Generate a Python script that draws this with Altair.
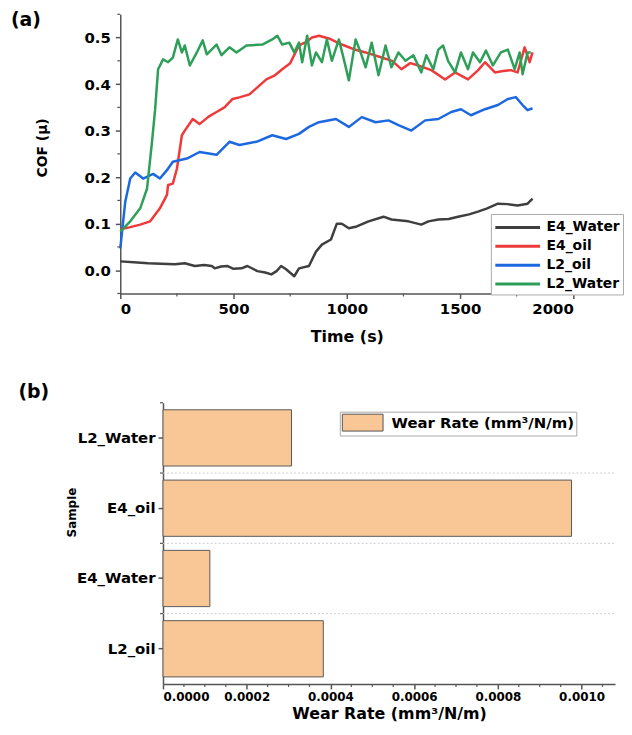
import altair as alt
import pandas as pd

# ---------------- data: COF vs time ----------------
series_names = ["E4_Water", "E4_oil", "L2_oil", "L2_Water"]
series_colors = ["#3f3f3f", "#ee3a3a", "#1c68e0", "#2e9f58"]

e4_water_t = [0, 60, 123, 180, 241, 285, 329, 370, 404, 417, 445, 474, 500, 535, 561, 605, 640, 667, 690, 710,
              732, 768, 789, 833, 864, 890, 930, 956, 978, 1009, 1044, 1096, 1162, 1197, 1272, 1329, 1360, 1404,
              1450, 1491, 1540, 1579, 1620, 1667, 1710, 1754, 1798, 1820]
e4_water_v = [0.019, 0.017, 0.015, 0.014, 0.013, 0.015, 0.009, 0.011, 0.009, 0.004, 0.008, 0.009, 0.003, 0.004,
              0.009, -0.002, -0.005, -0.009, -0.002, 0.009, 0.002, -0.013, 0.004, 0.009, 0.040, 0.055, 0.066,
              0.100, 0.100, 0.090, 0.094, 0.105, 0.115, 0.109, 0.105, 0.098, 0.105, 0.109, 0.110, 0.115, 0.120,
              0.126, 0.133, 0.143, 0.142, 0.139, 0.143, 0.154]

e4_oil_t = [0, 40, 88, 132, 175, 206, 211, 232, 250, 272, 285, 320, 350, 390, 425, 460, 496, 530, 570, 610, 645,
            680, 715, 750, 789, 820, 846, 877, 921, 978, 1030, 1083, 1154, 1200, 1241, 1280, 1316, 1373, 1434, 1478,
            1535, 1580, 1610, 1654, 1690, 1724, 1754, 1785, 1807, 1820]
e4_oil_v = [0.088, 0.092, 0.098, 0.105, 0.133, 0.162, 0.183, 0.186, 0.218, 0.290, 0.300, 0.325, 0.314, 0.330,
            0.340, 0.350, 0.368, 0.372, 0.378, 0.395, 0.410, 0.418, 0.432, 0.445, 0.483, 0.490, 0.500, 0.504,
            0.498, 0.485, 0.475, 0.468, 0.457, 0.450, 0.432, 0.445, 0.440, 0.430, 0.410, 0.425, 0.410, 0.430,
            0.447, 0.425, 0.428, 0.430, 0.425, 0.479, 0.447, 0.468]

l2_oil_t = [0, 22, 44, 66, 101, 145, 175, 206, 232, 294, 350, 425, 482, 526, 601, 671, 732, 789, 833, 877, 952,
            1009, 1066, 1127, 1184, 1228, 1285, 1346, 1404, 1461, 1504, 1548, 1610, 1667, 1711, 1746, 1776, 1798,
            1820]
l2_oil_v = [0.047, 0.147, 0.197, 0.210, 0.197, 0.207, 0.197, 0.215, 0.233, 0.240, 0.254, 0.248, 0.276, 0.269,
            0.276, 0.290, 0.282, 0.293, 0.308, 0.318, 0.325, 0.308, 0.329, 0.318, 0.322, 0.312, 0.300, 0.322,
            0.325, 0.340, 0.346, 0.333, 0.346, 0.355, 0.368, 0.372, 0.355, 0.344, 0.348]

l2_water_t = [0, 44, 88, 118, 140, 154, 167, 189, 211, 232, 254, 272, 285, 307, 338, 364, 382, 425, 447, 482, 513,
              557, 627, 671, 693, 715, 746, 768, 789, 803, 825, 846, 864, 890, 912, 934, 965, 987, 1009, 1039, 1061,
              1083, 1110, 1140, 1171, 1197, 1228, 1259, 1294, 1329, 1351, 1382, 1404, 1425, 1447, 1478, 1504, 1535,
              1557, 1588, 1614, 1645, 1680, 1711, 1741, 1763, 1776, 1798, 1812]
l2_water_v = [0.083, 0.105, 0.133, 0.175, 0.276, 0.346, 0.432, 0.453, 0.447, 0.457, 0.496, 0.468, 0.483, 0.440,
              0.468, 0.494, 0.464, 0.485, 0.462, 0.479, 0.468, 0.483, 0.485, 0.496, 0.504, 0.485, 0.489, 0.468,
              0.489, 0.447, 0.504, 0.440, 0.468, 0.447, 0.496, 0.450, 0.496, 0.453, 0.408, 0.496, 0.468, 0.436,
              0.489, 0.419, 0.483, 0.436, 0.468, 0.450, 0.462, 0.425, 0.462, 0.432, 0.474, 0.483, 0.450, 0.425,
              0.468, 0.432, 0.468, 0.447, 0.472, 0.440, 0.468, 0.474, 0.432, 0.468, 0.421, 0.468, 0.468]

time_ticks = [0, 500, 1000, 1500, 2000]
time_minor = [250, 750, 1250, 1750]
cof_ticks = [0.0, 0.1, 0.2, 0.3, 0.4, 0.5]
cof_minor = [-0.05, 0.05, 0.15, 0.25, 0.35, 0.45, 0.55]

# ---------------- data: wear rate ----------------
samples = ["L2_Water", "E4_oil", "E4_Water", "L2_oil"]
wear_rates = [0.000307, 0.000976, 0.000112, 0.000383]
wear_ticks = [0.0, 0.0002, 0.0004, 0.0006, 0.0008, 0.0010]
wear_minor = [0.00005, 0.0001, 0.00015, 0.00025, 0.0003, 0.00035, 0.00045, 0.0005, 0.00055,
              0.00065, 0.0007, 0.00075, 0.00085, 0.0009, 0.00095, 0.00105]
wear_label = "Wear Rate (mm³/N/m)"
bar_color = "#f9c795"

rows = []
for name, ts, vs in [("E4_Water", e4_water_t, e4_water_v), ("E4_oil", e4_oil_t, e4_oil_v),
                     ("L2_oil", l2_oil_t, l2_oil_v), ("L2_Water", l2_water_t, l2_water_v)]:
    assert len(ts) == len(vs), name
    rows += [{"series": name, "time": t, "cof": v} for t, v in zip(ts, vs)]
cof_df = pd.DataFrame(rows)

wear_df = pd.DataFrame({"sample": samples, "wear": wear_rates, "legend": [wear_label] * len(samples)})

FONT = "DejaVu Sans"
AX = "#555555"
W1, H1 = 456, 281
SHIFT = 43                 # bottom panel's axis sits this far right of the top panel's
W2, H2 = 455 + SHIFT, 283
HALF_GAP = -0.1 * H2 / len(samples)  # boundary between bands, measured from band start

# ---------------- top panel ----------------
xt = dict(title="Time (s)")
yt = dict(title="COF (μ)")

lines = alt.Chart(cof_df).mark_line(strokeWidth=2.5, strokeJoin="round").encode(
    x=alt.X("time:Q", scale=alt.Scale(domain=[0, 2000], nice=False, zero=False),
            axis=alt.Axis(values=time_ticks, format="d", labelFontSize=15, titleFontSize=16,
                          titlePadding=12, labelPadding=3), **xt),
    y=alt.Y("cof:Q", scale=alt.Scale(domain=[-0.05, 0.55], nice=False, zero=False),
            axis=alt.Axis(values=cof_ticks, format=".1f", labelFontSize=15, titleFontSize=14,
                          titleX=-71, titleY=134, labelPadding=5), **yt),
    color=alt.Color("series:N", scale=alt.Scale(domain=series_names, range=series_colors),
                    legend=alt.Legend(title=None, orient="none", legendX=373, legendY=201,
                                      symbolType="M-1,0H4", symbolSize=324, symbolStrokeWidth=3,
                                      labelFont=FONT, labelFontWeight="bold", labelFontSize=14,
                                      labelColor="black", labelOffset=32, rowPadding=1, labelLimit=300,
                                      strokeColor="#aaaaaa", fillColor="white", padding=3)),
)

minor_x1 = alt.Chart(pd.DataFrame({"time": time_minor})).mark_rule(color=AX, strokeWidth=1.2).encode(
    x=alt.X("time:Q", **xt), y=alt.value(H1), y2=alt.value(H1 + 3))
minor_y1 = alt.Chart(pd.DataFrame({"cof": cof_minor})).mark_rule(color=AX, strokeWidth=1.2).encode(
    y=alt.Y("cof:Q", **yt), x=alt.value(-3), x2=alt.value(0))
label_a = alt.Chart(alt.Data(values=[{}])).mark_text(
    text="(a)", font=FONT, fontSize=19, fontWeight="bold", align="center", baseline="middle",
    color="black").encode(x=alt.value(-95), y=alt.value(6))

top = alt.layer(lines, minor_x1, minor_y1, label_a).properties(width=W1, height=H1)

# ---------------- bottom panel ----------------
ys = dict(sort=samples, title="Sample")
xs = dict(title="Wear Rate  (mm³/N/m)")

bars = alt.Chart(wear_df).mark_bar(stroke="#5a5a5a", strokeWidth=1).encode(
    y=alt.Y("sample:N", scale=alt.Scale(domain=samples, paddingInner=0.2, paddingOuter=0.1),
            axis=alt.Axis(labelFontSize=15, titleFontSize=12, titleX=-85, titleY=110, labelPadding=3,
                          offset=-SHIFT), **ys),
    x=alt.X("wear:Q", scale=alt.Scale(domain=[0, 0.00108], nice=False, zero=False, range=[SHIFT, W2]),
            axis=alt.Axis(values=wear_ticks, format=".4f", labelFontSize=12, titleFontSize=16,
                          titlePadding=3, labelPadding=3), **xs),
    fill=alt.Fill("legend:N", scale=alt.Scale(domain=[wear_label], range=[bar_color]),
                  legend=alt.Legend(title=None, orient="none", legendX=221, legendY=9,
                                    symbolType="M-1,-1H3.82V1H-1Z", symbolSize=289,
                                    symbolStrokeColor="#555555", symbolStrokeWidth=1,
                                    labelFont=FONT, labelFontWeight="bold", labelFontSize=15,
                                    labelColor="black", labelOffset=32, labelLimit=400,
                                    strokeColor="#aaaaaa", fillColor="white", padding=2)),
)

grid2 = alt.Chart(pd.DataFrame({"sample": samples[1:]})).mark_rule(
    color="#cfcfcf", strokeDash=[2, 2], strokeWidth=1).encode(
    y=alt.Y("sample:N", bandPosition=0, **ys), yOffset=alt.value(HALF_GAP),
    x=alt.value(SHIFT), x2=alt.value(W2))
minor_y2 = alt.Chart(pd.DataFrame({"sample": samples})).mark_rule(color=AX, strokeWidth=1.2).encode(
    y=alt.Y("sample:N", bandPosition=0, **ys), yOffset=alt.value(HALF_GAP),
    x=alt.value(SHIFT - 3), x2=alt.value(SHIFT))
minor_x2 = alt.Chart(pd.DataFrame({"wear": wear_minor})).mark_rule(color=AX, strokeWidth=1.2).encode(
    x=alt.X("wear:Q", **xs), y=alt.value(H2), y2=alt.value(H2 + 3))
label_b = alt.Chart(alt.Data(values=[{}])).mark_text(
    text="(b)", font=FONT, fontSize=19, fontWeight="bold", align="center", baseline="middle",
    color="black").encode(x=alt.value(-87), y=alt.value(-11))

bottom = alt.layer(grid2, bars, minor_y2, minor_x2, label_b).properties(width=W2, height=H2)

chart = alt.vconcat(top, bottom, spacing=39).resolve_scale(
    color="independent", fill="independent", x="independent", y="independent"
).resolve_legend(color="independent", fill="independent").properties(
    padding={"left": 2, "top": 1, "right": 0, "bottom": 0}
).configure_view(stroke=None).configure_axis(
    domainColor=AX, domainWidth=1.5, tickColor=AX, tickWidth=1.5, tickSize=5,
    labelFont=FONT, labelFontWeight="bold", labelColor="black",
    titleFont=FONT, titleFontWeight="bold", titleColor="black", grid=False,
)

chart.save("out.html", embed_options={"renderer": "svg", "actions": False})
